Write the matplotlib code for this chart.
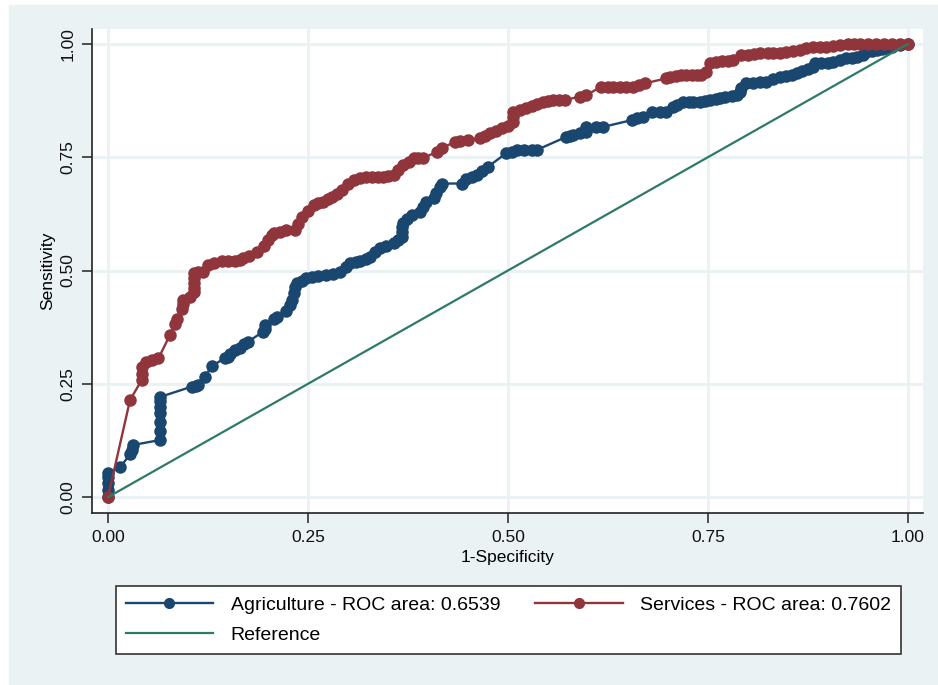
import matplotlib
matplotlib.use("Agg")
import matplotlib.pyplot as plt
from matplotlib.patches import Rectangle
import numpy as np

plt.rcParams['font.family'] = ['Liberation Sans', 'DejaVu Sans']

# ROC points (1-specificity, sensitivity)
agri_fpr = [0, 0, 0, 0, 0, 0.015, 0.028, 0.03, 0.031, 0.065, 0.065, 0.065, 0.065, 0.065,
            0.065, 0.065, 0.105, 0.11, 0.1125, 0.121, 0.13, 0.146, 0.15, 0.153, 0.159,
            0.165, 0.17, 0.175, 0.194, 0.196, 0.196, 0.207, 0.211, 0.222, 0.2275, 0.23,
            0.232, 0.234, 0.236, 0.242, 0.248, 0.255, 0.263, 0.273, 0.281, 0.29, 0.297,
            0.3025, 0.31, 0.315, 0.322, 0.3275, 0.334, 0.34, 0.348, 0.357, 0.362, 0.367,
            0.368, 0.368, 0.369, 0.374, 0.38, 0.39, 0.394, 0.398, 0.407, 0.41, 0.415,
            0.417, 0.442, 0.448, 0.455, 0.461, 0.468, 0.475, 0.498, 0.505, 0.511, 0.52,
            0.53, 0.536, 0.573, 0.578, 0.582, 0.59, 0.598, 0.598, 0.61, 0.619, 0.655,
            0.662, 0.669, 0.68, 0.69, 0.698, 0.707, 0.712, 0.719, 0.726, 0.732, 0.74,
            0.746, 0.7525, 0.76, 0.765, 0.772, 0.78, 0.786, 0.79, 0.792, 0.798, 0.806,
            0.815, 0.823, 0.832, 0.84, 0.848, 0.855, 0.861, 0.868, 0.875, 0.882, 0.884,
            0.892, 0.9, 0.907, 0.915, 0.923, 0.93, 0.937, 0.944, 0.948, 0.955, 0.962,
            0.968, 0.973, 0.98, 0.99, 1]
agri_tpr = [0, 0.015, 0.031, 0.044, 0.053, 0.066, 0.095, 0.104, 0.115, 0.126, 0.146, 0.166,
            0.185, 0.2, 0.212, 0.221, 0.244, 0.245, 0.247, 0.266, 0.289, 0.307, 0.31, 0.316,
            0.325, 0.33, 0.337, 0.343, 0.365, 0.372, 0.38, 0.394, 0.398, 0.41, 0.424, 0.436,
            0.45, 0.464, 0.472, 0.478, 0.483, 0.485, 0.487, 0.49, 0.493, 0.497, 0.507,
            0.516, 0.518, 0.52, 0.525, 0.53, 0.54, 0.549, 0.554, 0.56, 0.567, 0.575,
            0.585, 0.595, 0.604, 0.613, 0.622, 0.63, 0.641, 0.652, 0.659, 0.671, 0.685,
            0.692, 0.692, 0.703, 0.707, 0.711, 0.72, 0.729, 0.759, 0.762, 0.766, 0.766,
            0.766, 0.766, 0.795, 0.797, 0.799, 0.803, 0.806, 0.817, 0.817, 0.817, 0.832,
            0.836, 0.839, 0.85, 0.85, 0.85, 0.861, 0.866, 0.872, 0.872, 0.872, 0.872,
            0.874, 0.876, 0.878, 0.88, 0.882, 0.885, 0.887, 0.895, 0.902, 0.913, 0.914,
            0.916, 0.917, 0.923, 0.928, 0.93, 0.932, 0.935, 0.94, 0.945, 0.95, 0.957,
            0.958, 0.959, 0.96, 0.964, 0.968, 0.97, 0.972, 0.975, 0.982, 0.984, 0.986,
            0.988, 0.99, 0.993, 0.998, 1]

serv_fpr = [0, 0.0275, 0.042, 0.042, 0.042, 0.048, 0.055, 0.063, 0.0775, 0.084, 0.086,
            0.092, 0.094, 0.094, 0.1025, 0.107, 0.107, 0.107, 0.107, 0.107, 0.113, 0.119,
            0.125, 0.133, 0.142, 0.15, 0.159, 0.165, 0.169, 0.176, 0.186, 0.195, 0.2, 0.205,
            0.207, 0.215, 0.223, 0.234, 0.238, 0.242, 0.25, 0.257, 0.263, 0.269, 0.275,
            0.28, 0.286, 0.292, 0.3, 0.307, 0.315, 0.323, 0.33, 0.337, 0.344, 0.35, 0.357,
            0.363, 0.369, 0.376, 0.382, 0.388, 0.394, 0.411, 0.417, 0.434, 0.44, 0.45,
            0.465, 0.471, 0.4775, 0.485, 0.492, 0.5, 0.507, 0.507, 0.507, 0.515, 0.523,
            0.53, 0.537, 0.544, 0.55, 0.557, 0.564, 0.571, 0.59, 0.598, 0.617, 0.625,
            0.632, 0.64, 0.648, 0.657, 0.664, 0.671, 0.698, 0.7025, 0.71, 0.717, 0.723,
            0.73, 0.736, 0.742, 0.748, 0.7525, 0.76, 0.768, 0.775, 0.782, 0.792, 0.8,
            0.808, 0.815, 0.825, 0.832, 0.84, 0.848, 0.857, 0.865, 0.873, 0.882, 0.89,
            0.898, 0.907, 0.915, 0.925, 0.933, 0.94, 0.95, 0.96, 0.97, 0.98, 0.99, 1]
serv_tpr = [0, 0.214, 0.258, 0.272, 0.288, 0.299, 0.303, 0.306, 0.358, 0.383, 0.394,
            0.416, 0.426, 0.435, 0.442, 0.452, 0.461, 0.472, 0.483, 0.494, 0.496, 0.497,
            0.512, 0.516, 0.52, 0.52, 0.52, 0.524, 0.527, 0.532, 0.541, 0.555, 0.567, 0.578,
            0.582, 0.586, 0.589, 0.589, 0.603, 0.619, 0.632, 0.645, 0.648, 0.652, 0.658,
            0.663, 0.67, 0.678, 0.69, 0.7, 0.704, 0.707, 0.707, 0.707, 0.707, 0.709, 0.711,
            0.722, 0.733, 0.74, 0.748, 0.748, 0.748, 0.762, 0.77, 0.784, 0.786, 0.788,
            0.792, 0.797, 0.803, 0.808, 0.814, 0.82, 0.828, 0.839, 0.85, 0.854, 0.858,
            0.862, 0.867, 0.872, 0.874, 0.876, 0.876, 0.876, 0.884, 0.887, 0.906, 0.906,
            0.906, 0.906, 0.906, 0.906, 0.91, 0.913, 0.924, 0.928, 0.93, 0.931, 0.932,
            0.932, 0.932, 0.932, 0.939, 0.957, 0.96, 0.962, 0.963, 0.965, 0.975, 0.976,
            0.978, 0.979, 0.979, 0.979, 0.979, 0.982, 0.985, 0.987, 0.99, 0.994, 0.994,
            0.994, 0.996, 0.998, 1.0, 1.0, 1.0, 1.0, 1.0, 1.0, 1.0, 1.0, 1]

ref_line = [0, 1]
ticks = [0, 0.25, 0.5, 0.75, 1]
tick_labels = ["0.00", "0.25", "0.50", "0.75", "1.00"]

agri_label = "Agriculture - ROC area: 0.6539"
serv_label = "Services - ROC area: 0.7602"

navy = "#1a476f"
maroon = "#90353b"
teal = "#2e7a68"
bg = "#eaf2f3"

W, H = 938, 685
fig = plt.figure(figsize=(W / 100, H / 100), dpi=100, facecolor="white")
fig.patches.append(Rectangle((9 / W, 0), 1 - 9 / W, 1 - 5 / H,
                             transform=fig.transFigure, color=bg, zorder=-10))

ax = fig.add_axes([92 / W, 1 - 513 / H, (923 - 92) / W, (513 - 29) / H])
ax.set_facecolor("white")

ax.plot(agri_fpr, agri_tpr, color=navy, lw=1.7, marker="o", ms=8,
        mec=navy, mfc=navy, label=agri_label, zorder=3)
ax.plot(serv_fpr, serv_tpr, color=maroon, lw=1.7, marker="o", ms=8,
        mec=maroon, mfc=maroon, label=serv_label, zorder=4)
ax.plot(ref_line, ref_line, color=teal, lw=1.6, label="Reference", zorder=5)

ax.set_xlim(-0.02, 1.019)
ax.set_ylim(-0.035, 1.033)

ax.set_xticks(ticks)
ax.set_xticklabels(tick_labels)
ax.set_yticks(ticks)
ax.set_yticklabels(tick_labels, rotation=90, va="center")
ax.tick_params(axis="both", length=7, width=1.1, color="#222222",
               labelsize=12.5, labelcolor="#111111", pad=5)
ax.grid(True, color=bg, lw=2.2, zorder=0)
ax.set_axisbelow(True)

for side in ["top", "right"]:
    ax.spines[side].set_visible(False)
for side in ["left", "bottom"]:
    ax.spines[side].set_color("#222222")
    ax.spines[side].set_linewidth(1.2)

ax.set_xlabel("1-Specificity", fontsize=12.5, labelpad=4)
ax.set_ylabel("Sensitivity", fontsize=12.5, labelpad=4)

# legend order fills columns: first column Agriculture/Reference, second Services
h, l = ax.get_legend_handles_labels()
order = [0, 2, 1]
leg = ax.legend([h[i] for i in order], [l[i] for i in order],
                loc="center", ncol=2, mode="expand",
                bbox_to_anchor=(116 / W, 1 - 657 / H, (901 - 116) / W, (657 - 583) / H),
                bbox_transform=fig.transFigure,
                fancybox=False, framealpha=1, facecolor="white", edgecolor="#333333",
                fontsize=14, handlelength=4.5, handletextpad=0.9, numpoints=1,
                borderpad=0.5, labelspacing=0.65, borderaxespad=0)
leg.get_frame().set_linewidth(1.2)
for line in leg.get_lines():
    line.set_markersize(7)

plt.savefig("out.png", dpi=100, facecolor=fig.get_facecolor())
